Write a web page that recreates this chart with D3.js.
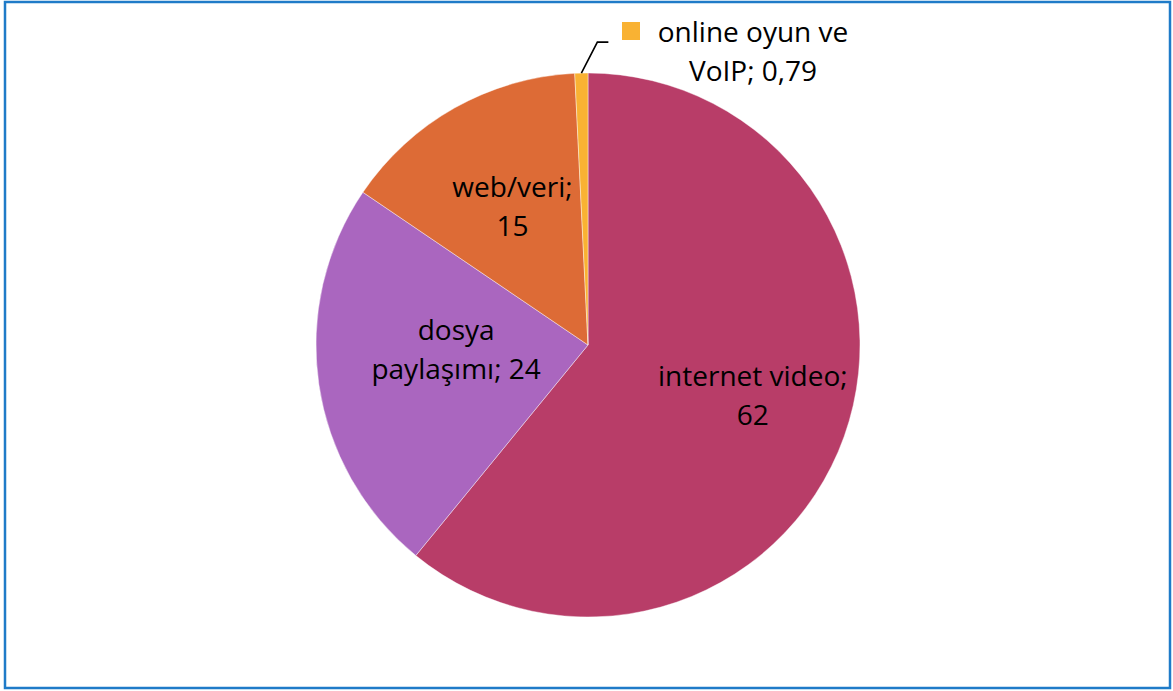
<!DOCTYPE html>
<html>
<head>
<meta charset="utf-8">
<script src="https://cdn.jsdelivr.net/npm/d3@7"></script>
<style>
  body { margin: 0; background: #fff; }
  svg { display: block; }
</style>
</head>
<body>
<script>
// Data
const categories = ['internet video', 'dosya paylaşımı', 'web/veri', 'online oyun ve VoIP']
const values = [62, 24, 15, 0.79]
const valueLabels = ['62', '24', '15', '0,79']
const colors = ['#B83D68', '#AA66BF', '#DD6B36', '#F9B233']

// Label lines (as wrapped in the reference)
const labelLines = [
  ['internet video;', '62'],
  ['dosya', 'paylaşımı; 24'],
  ['web/veri;', '15'],
  ['online oyun ve', 'VoIP; 0,79']
]

const width = 1173
const height = 691
const cx = 588
const cy = 345
const radius = 272

const svg = d3.select('body').append('svg')
  .attr('width', width)
  .attr('height', height)
  .attr('viewBox', [0, 0, width, height].join(' '))

svg.append('rect')
  .attr('x', 5).attr('y', 2)
  .attr('width', 1165).attr('height', 686)
  .attr('fill', '#fff')
  .attr('stroke', '#1F7BC8')
  .attr('stroke-width', 2.5)

const pie = d3.pie().sort(null).value(d => d)
const arcs = pie(values)
const arc = d3.arc().innerRadius(0).outerRadius(radius)

const g = svg.append('g').attr('transform', `translate(${cx}, ${cy})`)

g.selectAll('path.slice')
  .data(arcs)
  .enter().append('path')
  .attr('class', 'slice')
  .attr('d', arc)
  .attr('fill', (d, i) => colors[i])
  .attr('stroke', '#fff')
  .attr('stroke-width', 0.6)
  .attr('stroke-opacity', 0.7)

// label positions: centroid, nudged like the reference layout
const labelArc = d3.arc().innerRadius(radius * 0.62).outerRadius(radius * 0.62)
const offsets = [[6, -6], [35, -20], [7, 9]]

const fontFamily = '"Open Sans", sans-serif'
const fontSize = 28
const lineGap = 39

arcs.slice(0, 3).forEach((d, i) => {
  const [x, y] = labelArc.centroid(d)
  const t = g.append('text')
    .attr('text-anchor', 'middle')
    .attr('font-family', fontFamily)
    .attr('font-size', fontSize)
    .attr('fill', '#000')
  labelLines[i].forEach((line, j) => {
    t.append('tspan')
      .attr('x', x + offsets[i][0])
      .attr('y', y + offsets[i][1] + (j - 0.5) * lineGap + fontSize * 0.35)
      .text(line)
  })
})

// small slice: leader line and label outside with colour key
const small = arcs[3]
const midA = (small.startAngle + small.endAngle) / 2
const edge = [Math.sin(midA) * radius, -Math.cos(midA) * radius]
const elbow = [edge[0] + 16, edge[1] - 31]
g.append('polyline')
  .attr('points', [edge, elbow, [elbow[0] + 11, elbow[1]]].map(p => p.join(',')).join(' '))
  .attr('fill', 'none')
  .attr('stroke', '#000')
  .attr('stroke-width', 1.6)

const labelX = 753 - cx
const labelY = 42 - cy

g.append('rect')
  .attr('x', 622 - cx).attr('y', 22 - cy)
  .attr('width', 18).attr('height', 18)
  .attr('fill', colors[3])

const smallText = g.append('text')
  .attr('text-anchor', 'middle')
  .attr('font-family', fontFamily)
  .attr('font-size', fontSize)
  .attr('fill', '#000')
labelLines[3].forEach((line, j) => {
  smallText.append('tspan')
    .attr('x', labelX)
    .attr('y', labelY + j * lineGap)
    .text(line)
})
</script>
</body>
</html>
